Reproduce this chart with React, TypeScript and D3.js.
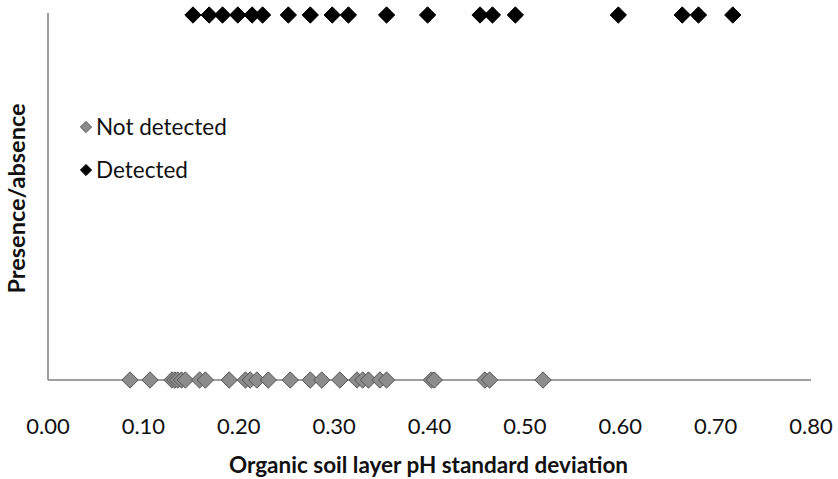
import React from "react";
import * as d3 from "d3";

const notDetected = [0.086, 0.107, 0.130, 0.133, 0.136, 0.140, 0.144, 0.159, 0.165, 0.190, 0.207, 0.212, 0.219, 0.231, 0.254, 0.275, 0.287, 0.306, 0.324, 0.330, 0.336, 0.348, 0.355, 0.402, 0.405, 0.458, 0.463, 0.519];
const detected = [0.152, 0.169, 0.183, 0.199, 0.214, 0.225, 0.252, 0.275, 0.298, 0.315, 0.355, 0.398, 0.453, 0.466, 0.490, 0.598, 0.665, 0.682, 0.718];
const xTicks = [0, 0.1, 0.2, 0.3, 0.4, 0.5, 0.6, 0.7, 0.8];
const legendLabels = ["Not detected", "Detected"];

const W = 838;
const H = 479;
const FONT = "Lato, Carlito, Calibri, 'Open Sans', sans-serif";

export default function App() {
  const x = d3.scaleLinear().domain([0, 0.8]).range([48, 811]);
  const y = d3.scaleLinear().domain([0, 1]).range([380, 15]);
  const diamond = d3.symbol().type(d3.symbolDiamond2).size(170)() as string;
  const smallDiamond = d3.symbol().type(d3.symbolDiamond2).size(80)() as string;

  return (
    <svg width={W} height={H} style={{ position: "absolute", left: 0, top: 0, background: "#fff" }} fontFamily={FONT}>
      <rect width={W} height={H} fill="#fff" />
      {/* axes */}
      <line x1={x(0)} x2={x(0)} y1={y(1) - 2} y2={y(0)} stroke="#7f7f7f" strokeWidth={1.5} />
      <line x1={x(0)} x2={x(0.8)} y1={y(0)} y2={y(0)} stroke="#7f7f7f" strokeWidth={1.5} />
      {/* tick labels */}
      {xTicks.map((t) => (
        <text key={t} x={x(t)} y={434} textAnchor="middle" fontSize={22} fill="#111">
          {d3.format(".2f")(t)}
        </text>
      ))}
      <text x={(x(0) + x(0.8)) / 2 - 1} y={473} textAnchor="middle" fontSize={22.5} fontWeight="bold" fill="#111">
        Organic soil layer pH standard deviation
      </text>
      <text transform={`translate(25, ${y(0.5) + 1}) rotate(-90)`} textAnchor="middle" fontSize={23.5} fontWeight="bold" fill="#111">
        Presence/absence
      </text>
      {/* not detected points */}
      {notDetected.map((v, i) => (
        <path key={"n" + i} d={diamond} transform={`translate(${x(v)}, ${y(0)})`} fill="#8c8c8c" stroke="#555" strokeWidth={1} />
      ))}
      {/* detected points */}
      {detected.map((v, i) => (
        <path key={"d" + i} d={diamond} transform={`translate(${x(v)}, ${y(1)})`} fill="#000" stroke="#000" strokeWidth={1} />
      ))}
      {/* legend */}
      {legendLabels.map((lab, i) => (
        <g key={lab} transform={`translate(86, ${127 + i * 43})`}>
          <path d={smallDiamond} fill={i === 0 ? "#8c8c8c" : "#000"} stroke={i === 0 ? "#555" : "#000"} strokeWidth={1} />
          <text x={10} y={8} fontSize={22.5} fill="#111">{lab}</text>
        </g>
      ))}
    </svg>
  );
}
